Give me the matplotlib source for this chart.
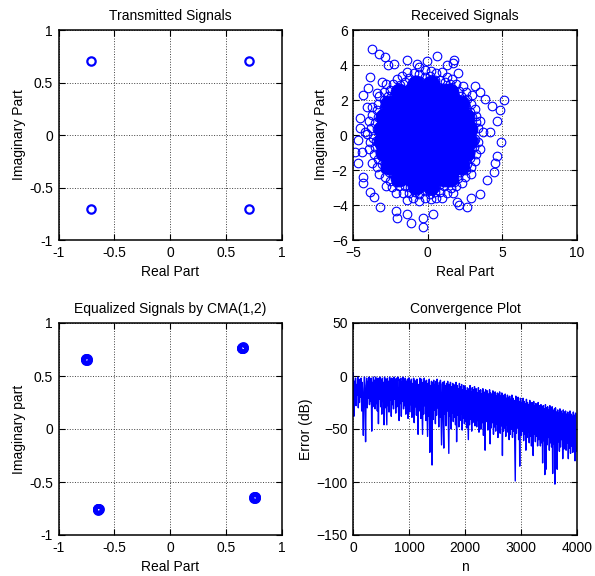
import matplotlib
matplotlib.use('Agg')
import matplotlib.pyplot as plt
import numpy as np

plt.rcParams['font.family'] = ['Liberation Sans', 'DejaVu Sans']
plt.rcParams['font.size'] = 10

# ---------------- data ----------------
# Transmitted QPSK constellation
tx_re = [0.707, -0.707, -0.707, 0.707]
tx_im = [0.707, 0.707, -0.707, -0.707]

# Received signals: dense core (visually solid), edge rings, outliers
rx_core_re = [-0.8, 0.2,
              -1.9, -1.15, -0.4, 0.35, 1.1, 1.5,
              -2.6, -1.85, -1.1, -0.35, 0.4, 1.15, 1.9, 2.2,
              -2.95, -2.2, -1.45, -0.7, 0.05, 0.8, 1.55, 2.3, 2.6,
              -3.1, -2.35, -1.6, -0.85, -0.1, 0.65, 1.4, 2.15, 2.75,
              -3.1, -2.35, -1.6, -0.85, -0.1, 0.65, 1.4, 2.15, 2.75,
              -2.95, -2.2, -1.45, -0.7, 0.05, 0.8, 1.55, 2.3, 2.6,
              -2.6, -1.85, -1.1, -0.35, 0.4, 1.15, 1.9, 2.2,
              -1.9, -1.15, -0.4, 0.35, 1.1, 1.5,
              -0.8, 0.2]
rx_core_im = [2.9, 2.9,
              2.45, 2.45, 2.45, 2.45, 2.45, 2.45,
              1.75, 1.75, 1.75, 1.75, 1.75, 1.75, 1.75, 1.75,
              1.05, 1.05, 1.05, 1.05, 1.05, 1.05, 1.05, 1.05, 1.05,
              0.35, 0.35, 0.35, 0.35, 0.35, 0.35, 0.35, 0.35, 0.35,
              -0.35, -0.35, -0.35, -0.35, -0.35, -0.35, -0.35, -0.35, -0.35,
              -1.05, -1.05, -1.05, -1.05, -1.05, -1.05, -1.05, -1.05, -1.05,
              -1.75, -1.75, -1.75, -1.75, -1.75, -1.75, -1.75, -1.75,
              -2.45, -2.45, -2.45, -2.45, -2.45, -2.45,
              -2.9, -2.9]

rx_edge_re = [2.8, 3.2, 3.7, 2.83, 3.22, 3.52, 2.45, 2.82, 3.18, 2.31, 2.63, 2.96,
              1.81, 2.07, 2.34, 1.35, 1.5, 1.65, 0.7, 0.82, 0.97, 0.12, 0.16, 0.19,
              -0.53, -0.57, -0.61, -1.13, -1.25, -1.37, -1.65, -1.85, -2.05,
              -2.27, -2.54, -2.81, -2.63, -2.95, -3.27, -3.03, -3.4, -3.76,
              -3.04, -3.53, -3.92, -3.2, -3.7, -4.1, -3.23, -3.53, -3.92,
              -2.94, -3.31, -3.76, -2.55, -2.87, -3.27, -2.27, -2.54, -2.81,
              -1.7, -1.9, -2.1, -1.16, -1.28, -1.41, -0.52, -0.56, -0.6,
              0.1, 0.16, 0.19, 0.73, 0.85, 0.97, 1.35, 1.55, 1.7,
              1.74, 2.01, 2.28, 2.23, 2.55, 2.87, 2.45, 2.82, 3.18, 2.73, 3.13, 3.52,
              2.98, 3.38, 2.94, 3.22, 2.57, 2.92, 2.25, 2.55, 1.68, 1.92,
              1.14, 1.27, 0.47, 0.55, -0.2, -0.2, -0.87, -0.95, -1.54, -1.71,
              -2.08, -2.32, -2.65, -2.95, -2.97, -3.32, -3.34, -3.72, -3.38, -3.78,
              -3.48, -3.88, -3.24, -3.62, -3.06, -3.4, -2.58, -2.87, -2.14, -2.38,
              -1.5, -1.67, -0.89, -0.97, -0.2, -0.2, 0.49, 0.57, 1.1, 1.27,
              1.74, 1.92, 2.18, 2.47, 2.66, 2.92, 2.84, 3.22, 3.08, 3.38]
rx_edge_im = [0.1, -0.2, 0.15, 0.64, 0.73, 0.79, 1.18, 1.34, 1.51, 1.82, 2.06, 2.29,
              2.23, 2.53, 2.82, 2.68, 2.94, 3.2, 2.76, 3.14, 3.61, 2.99, 3.38, 3.68,
              3.08, 3.48, 3.88, 2.85, 3.23, 3.61, 2.51, 2.86, 3.2,
              2.3, 2.6, 2.9, 1.76, 2.0, 2.23, 1.26, 1.42, 1.59,
              0.6, 0.71, 0.79, 0.1, -0.15, 0.05, -0.64, -0.71, -0.79,
              -1.22, -1.38, -1.59, -1.71, -1.94, -2.23, -2.3, -2.6, -2.9,
              -2.6, -2.94, -3.29, -2.95, -3.33, -3.71, -2.99, -3.38, -3.78,
              -2.89, -3.38, -3.68, -2.85, -3.23, -3.61, -2.68, -3.03, -3.29,
              -2.15, -2.45, -2.75, -1.76, -2.0, -2.23, -1.18, -1.34, -1.51, -0.62, -0.71, -0.79,
              0.34, 0.38, 1.02, 1.11, 1.6, 1.8, 2.21, 2.48, 2.59, 2.91,
              3.02, 3.29, 3.13, 3.52, 3.3, 3.7, 3.13, 3.52, 3.02, 3.38,
              2.59, 2.91, 2.21, 2.48, 1.6, 1.8, 1.02, 1.14, 0.34, 0.38,
              -0.35, -0.39, -0.99, -1.11, -1.65, -1.85, -2.14, -2.41, -2.67, -2.99,
              -2.92, -3.29, -3.23, -3.62, -3.2, -3.6, -3.23, -3.62, -2.92, -3.29,
              -2.67, -2.91, -2.14, -2.41, -1.65, -1.8, -0.99, -1.11, -0.35, -0.38]

rx_out_re = [-3.77, -3.27, -2.87, -2.69, -2.3, -1.41, -0.74, -0.07, 0.65, 1.77, 1.68, 1.28,
             2.0, 3.14, 3.54, 3.86, 4.3, 5.09, 4.87, 4.64, 4.93, 4.19, 4.64, 4.53, 4.42,
             3.97, 3.48, 2.87, 2.62, 2.13, 1.95, 0.38, -0.34, -0.29, -1.12, -1.37, -2.04,
             -2.15, -3.2, -3.61, -3.88, -4.33, -4.33, -4.66, -4.89, -4.44, -4.66, -4.55,
             -4.33, -3.88, -3.99, -3.43, -4.22, -4.1, -3.09, -4.55]
rx_out_im = [4.9, 4.63, 4.44, 4.0, 4.06, 4.29, 4.06, 4.25, 4.53, 4.29, 4.1, 4.0,
             3.52, 2.82, 2.48, 2.08, 1.66, 2.0, 1.43, 0.82, -0.38, 0.19, -1.2, -1.62, -2.1,
             -2.57, -3.37, -3.62, -4.13, -4.02, -3.81, -4.51, -4.76, -5.24, -5.0, -4.51, -4.76,
             -4.32, -4.1, -3.56, -3.24, -2.76, -2.38, -1.62, -0.95, -0.95, -0.29, 0.95,
             2.29, 3.33, 2.67, 2.42, 0.19, 1.62, 3.05, 0.38]

# Equalized signals (tight clusters)
eq_re = [-0.752, -0.748, -0.755, -0.746, -0.750,
         0.645, 0.649, 0.641, 0.647, 0.643,
         -0.645, -0.641, -0.649, -0.643, -0.647,
         0.755, 0.759, 0.751, 0.757, 0.753]
eq_im = [0.657, 0.652, 0.653, 0.659, 0.661,
         0.765, 0.761, 0.768, 0.770, 0.762,
         -0.755, -0.751, -0.758, -0.760, -0.752,
         -0.645, -0.641, -0.648, -0.650, -0.642]

# Convergence error (dB), one value every 10 samples
err_step = 10
err_db = [
    3, -38, -5, -22, -2, -28, -8, -18, -1, -30, -4, -25, -3, -20, -2, -33, -6, -27, -56, -12,
    -1, -24, -62, -9, -2, -30, -5, -21, -1, -27, -3, -24, -2, -52, -6, -29, -1, -20, -4, -31,
    -1, -26, -3, -33, -2, -45, -5, -22, -1, -29, -4, -36, -2, -24, -6, -46, -1, -30, -3, -25,
    -46, -2, -28, -5, -34, -1, -23, -3, -38, -2, -27, -6, -31, -1, -22, -4, -35, -2, -29, -5,
    -1, -33, -42, -3, -26, -2, -38, -6, -24, -1, -31, -4, -28, -2, -36, -5, -25, -3, -40, -2,
    -2, -34, -5, -27, -3, -39, -7, -30, -2, -44, -4, -29, -6, -37, -3, -26, -55, -8, -33, -2,
    -4, -40, -3, -31, -55, -6, -36, -2, -28, -5, -42, -4, -33, -57, -7, -38, -3, -72, -9, -35,
    -5, -84, -6, -41, -4, -32, -8, -45, -5, -37, -3, -30, -9, -48, -6, -39, -4, -34, -65, -8,
    -6, -44, -68, -5, -36, -9, -47, -7, -33, -5, -41, -73, -8, -38, -6, -50, -10, -35, -7, -43,
    -8, -39, -11, -46, -6, -62, -9, -37, -12, -48, -7, -42, -10, -36, -8, -51, -13, -40, -9, -45,
    -10, -43, -14, -49, -11, -38, -60, -12, -46, -9, -41, -15, -52, -11, -44, -13, -39, -10, -47, -14,
    -12, -48, -16, -42, -11, -53, -14, -45, -13, -50, -17, -44, -12, -56, -15, -47, -70, -13, -43, -16,
    -14, -51, -17, -46, -13, -64, -16, -49, -18, -44, -14, -55, -17, -48, -15, -52, -19, -45, -16, -58,
    -17, -50, -15, -54, -19, -47, -16, -75, -18, -52, -20, -49, -17, -57, -21, -46, -18, -53, -20, -60,
    -19, -55, -22, -50, -18, -58, -21, -52, -23, -62, -99, -19, -54, -22, -49, -20, -60, -24, -85, -21,
    -22, -56, -25, -52, -21, -61, -24, -55, -26, -70, -22, -58, -25, -53, -27, -63, -23, -57, -26, -66,
    -25, -59, -75, -24, -55, -28, -62, -26, -57, -29, -66, -25, -60, -28, -54, -66, -27, -63, -30, -82,
    -28, -61, -31, -93, -27, -88, -30, -65, -29, -58, -32, -70, -28, -63, -31, -67, -29, -92, -33, -64,
    -31, -102, -30, -66, -34, -88, -32, -62, -35, -71, -31, -67, -33, -60, -36, -78, -32, -69, -34, -65,
    -33, -70, -36, -63, -34, -78, -37, -68, -33, -73, -36, -66, -38, -72, -34, -69, -37, -80, -35, -71,
]

const_ticks = [-1, -0.5, 0, 0.5, 1]
const_ticklabels = ['-1', '-0.5', '0', '0.5', '1']
rx_xticks = [-5, 0, 5, 10]
rx_yticks = [-6, -4, -2, 0, 2, 4, 6]
err_xticks = [0, 1000, 2000, 3000, 4000]
err_yticks = [-150, -100, -50, 0, 50]

# ---------------- figure ----------------
W, H = 595, 576
fig = plt.figure(figsize=(W / 100, H / 100), dpi=100)

def add_ax(l, t, r, b):
    return fig.add_axes([l / W, 1 - b / H, (r - l) / W, (b - t) / H])

def style(ax):
    ax.tick_params(direction='in', top=True, right=True, length=4, width=0.8,
                   labelsize=10, pad=4)
    for s in ax.spines.values():
        s.set_linewidth(1.1)
    ax.grid(True, linestyle=':', color='#404040', linewidth=0.7)
    ax.set_axisbelow(True)

blue = '#0000ff'
TPAD = 7.5
YPAD = 2.5

ax1 = add_ax(58.5, 30, 282, 240)
ax1.plot(tx_re, tx_im, 'o', mfc='none', mec=blue, ms=6, mew=1.6)
ax1.set_xlim(-1, 1); ax1.set_ylim(-1, 1)
ax1.set_xticks(const_ticks, const_ticklabels)
ax1.set_yticks(const_ticks, const_ticklabels)
ax1.set_title('Transmitted Signals', fontsize=10, pad=TPAD)
ax1.set_xlabel('Real Part', fontsize=10)
ax1.set_ylabel('Imaginary Part', fontsize=10, labelpad=YPAD)
style(ax1)

ax2 = add_ax(353.3, 30, 576.7, 240)
ax2.plot(rx_core_re, rx_core_im, 'o', mfc=blue, mec=blue, ms=12, mew=0.8)
ax2.plot(rx_edge_re, rx_edge_im, 'o', mfc='none', mec=blue, ms=6.2, mew=0.8)
ax2.plot(rx_out_re, rx_out_im, 'o', mfc='none', mec=blue, ms=6.2, mew=0.8)
ax2.set_xlim(-5, 10); ax2.set_ylim(-6, 6)
ax2.set_xticks(rx_xticks); ax2.set_yticks(rx_yticks)
ax2.set_title('Received Signals', fontsize=10, pad=TPAD)
ax2.set_xlabel('Real Part', fontsize=10)
ax2.set_ylabel('Imaginary Part', fontsize=10, labelpad=YPAD)
style(ax2)

ax3 = add_ax(58.5, 323, 282, 535)
ax3.plot(eq_re, eq_im, 'o', mfc='none', mec=blue, ms=5, mew=2.8)
ax3.set_xlim(-1, 1); ax3.set_ylim(-1, 1)
ax3.set_xticks(const_ticks, const_ticklabels)
ax3.set_yticks(const_ticks, const_ticklabels)
ax3.set_title('Equalized Signals by CMA(1,2)', fontsize=10, pad=TPAD)
ax3.set_xlabel('Real Part', fontsize=10)
ax3.set_ylabel('Imaginary part', fontsize=10, labelpad=YPAD)
style(ax3)

ax4 = add_ax(353.3, 323, 576.7, 535)
n = np.arange(len(err_db)) * err_step
ax4.plot(n, err_db, '-', color=blue, lw=1.0)
ax4.set_xlim(0, 4000); ax4.set_ylim(-150, 50)
ax4.set_xticks(err_xticks); ax4.set_yticks(err_yticks)
ax4.set_title('Convergence Plot', fontsize=10, pad=TPAD)
ax4.set_xlabel('n', fontsize=10)
ax4.set_ylabel('Error (dB)', fontsize=10, labelpad=YPAD)
style(ax4)

fig.savefig('out.png', dpi=100)
